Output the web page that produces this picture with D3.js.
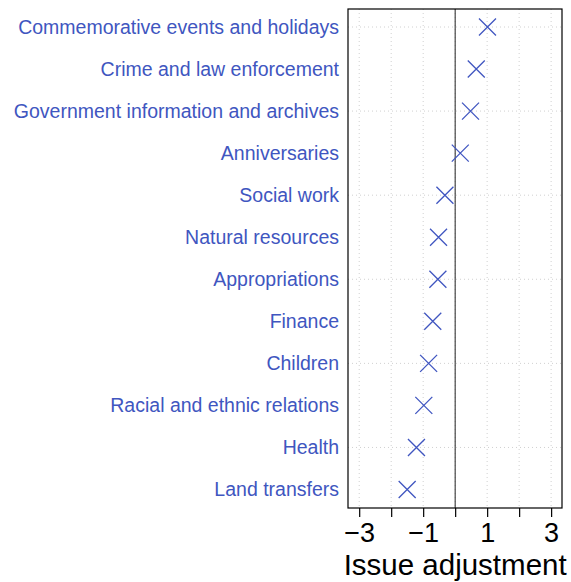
<!DOCTYPE html>
<html><head><meta charset="utf-8">
<script src="https://cdn.jsdelivr.net/npm/d3@7"></script>
<style>body{margin:0;background:#fff}svg{display:block}</style>
</head><body>
<svg id="c" width="571" height="582"></svg>
<script>
const categories = ["Commemorative events and holidays","Crime and law enforcement","Government information and archives","Anniversaries","Social work","Natural resources","Appropriations","Finance","Children","Racial and ethnic relations","Health","Land transfers"];
const values = [1.01, 0.66, 0.48, 0.16, -0.32, -0.52, -0.54, -0.70, -0.83, -0.98, -1.21, -1.50];
const tickValues = [-3,-2,-1,0,1,2,3];
const tickLabels = ["\u22123","","\u22121","","1","","3"];
const xTitle = "Issue adjustment";

const svg = d3.select("#c");
const L = 348, R = 562, T = 9, B = 508;
const x = d3.scaleLinear().domain([-3.35, 3.34]).range([L, R]);
const y = d3.scalePoint().domain(categories).range([27, 489.5]);
const blue = "#4056c0";
const font = "Liberation Sans, Arial, sans-serif";

// vertical grid
svg.append("g").selectAll("line").data(tickValues).join("line")
  .attr("x1", d => x(d)).attr("x2", d => x(d)).attr("y1", T).attr("y2", B)
  .attr("stroke", "#d0d0d0").attr("stroke-dasharray", "1,3");
// horizontal grid every other row
svg.append("g").selectAll("line").data(categories.filter((d,i)=>i%2===0)).join("line")
  .attr("x1", L).attr("x2", R).attr("y1", d => y(d)).attr("y2", d => y(d))
  .attr("stroke", "#d0d0d0").attr("stroke-dasharray", "1,3");
// zero line
svg.append("line").attr("x1", x(0)).attr("x2", x(0)).attr("y1", T).attr("y2", B)
  .attr("stroke", "#222").attr("stroke-width", 1);
// box
svg.append("rect").attr("x", L).attr("y", T).attr("width", R-L).attr("height", B-T)
  .attr("fill", "none").attr("stroke", "#000").attr("stroke-width", 1.2);

// markers
const s = 8.5;
const g = svg.append("g").selectAll("g").data(categories).join("g")
  .attr("transform", (d,i) => `translate(${x(values[i])},${y(d)})`);
g.append("path").attr("d", `M${-s},${-s}L${s},${s}M${-s},${s}L${s},${-s}`)
  .attr("stroke", blue).attr("stroke-width", 1.3).attr("fill", "none");

// category labels
svg.append("g").selectAll("text").data(categories).join("text")
  .attr("x", 339).attr("y", d => y(d)).attr("dy", "0.35em")
  .attr("text-anchor", "end").attr("fill", blue)
  .attr("font-family", font).attr("font-size", 19.5)
  .text(d => d);

// x axis
const ax = d3.axisBottom(x).tickValues(tickValues).tickSize(9).tickPadding(6)
  .tickFormat((d,i) => tickLabels[i]);
const axg = svg.append("g").attr("transform", `translate(0,${B})`).call(ax);
axg.select(".domain").remove();
axg.selectAll(".tick line").attr("stroke", "#000").attr("stroke-width", 1.2);
axg.selectAll(".tick text").attr("font-family", font)
  .attr("font-size", 27).attr("fill", "#000");

svg.append("text").attr("x", x(0)).attr("y", 575).attr("text-anchor", "middle")
  .attr("font-family", font).attr("font-size", 29.5)
  .attr("fill", "#000").text(xTitle);
</script>
</body></html>
